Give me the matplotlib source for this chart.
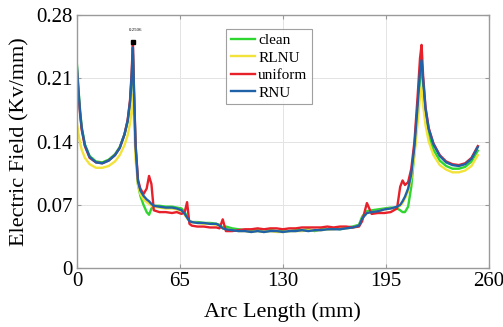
import matplotlib
matplotlib.use("Agg")
import matplotlib.pyplot as plt

plt.rcParams['font.family'] = ['Liberation Serif', 'DejaVu Serif']

# Arc length positions (mm)
arc_length = [0, 1, 2, 3, 5, 8, 12, 16, 20, 24,
              27, 30, 32, 33.5, 34.5, 35.3, 36, 37, 38.5, 40,
              42, 44, 45.5, 47, 48.5, 52, 56, 60, 63, 66,
              68, 69.5, 71, 72.5, 76, 80, 84, 88, 90, 92,
              94, 98, 102, 106, 110, 114, 118, 122, 126, 130,
              134, 138, 142, 146, 150, 154, 158, 162, 166, 170,
              174, 178, 180, 183, 186, 190, 194, 198, 202, 204,
              205.5, 207, 209, 211, 213, 215, 216.5, 217.5, 218.5, 220,
              222, 225, 229, 233, 237, 241, 245, 249, 253]

clean = [0.225, 0.197, 0.174, 0.156, 0.137, 0.124, 0.118, 0.117, 0.120, 0.126,
         0.134, 0.148, 0.162, 0.182, 0.208, 0.236, 0.190, 0.132, 0.093, 0.080,
         0.070, 0.062, 0.059, 0.066, 0.069, 0.069, 0.068, 0.068, 0.067, 0.066,
         0.062, 0.057, 0.052, 0.051, 0.051, 0.050, 0.050, 0.049, 0.048, 0.045,
         0.046, 0.044, 0.043, 0.042, 0.041, 0.042, 0.040, 0.042, 0.041, 0.041,
         0.041, 0.042, 0.042, 0.043, 0.041, 0.043, 0.043, 0.044, 0.043, 0.045,
         0.046, 0.048, 0.057, 0.063, 0.064, 0.065, 0.066, 0.067, 0.066, 0.064,
         0.062, 0.062, 0.068, 0.090, 0.128, 0.172, 0.210, 0.222, 0.200, 0.168,
         0.147, 0.131, 0.119, 0.113, 0.110, 0.110, 0.112, 0.118, 0.130]

rlnu = [0.160, 0.148, 0.138, 0.131, 0.122, 0.115, 0.111, 0.111, 0.113, 0.118,
        0.125, 0.136, 0.147, 0.160, 0.175, 0.192, 0.160, 0.120, 0.092, 0.082,
        0.076, 0.073, 0.071, 0.069, 0.068, 0.067, 0.066, 0.066, 0.065, 0.063,
        0.059, 0.055, 0.052, 0.051, 0.050, 0.049, 0.049, 0.048, 0.047, 0.044,
        0.043, 0.042, 0.041, 0.041, 0.040, 0.041, 0.040, 0.041, 0.040, 0.040,
        0.041, 0.041, 0.041, 0.042, 0.042, 0.042, 0.043, 0.043, 0.044, 0.044,
        0.045, 0.047, 0.055, 0.061, 0.062, 0.063, 0.065, 0.066, 0.067, 0.069,
        0.072, 0.077, 0.085, 0.100, 0.125, 0.160, 0.190, 0.200, 0.180, 0.158,
        0.140, 0.125, 0.114, 0.109, 0.106, 0.106, 0.108, 0.113, 0.125]

uniform = [0.218, 0.191, 0.170, 0.153, 0.135, 0.122, 0.117, 0.116, 0.119, 0.125,
           0.133, 0.148, 0.164, 0.186, 0.216, 0.2506, 0.198, 0.137, 0.098, 0.088,
           0.082, 0.088, 0.102, 0.093, 0.064, 0.062, 0.062, 0.061, 0.062, 0.060,
           0.062, 0.073, 0.049, 0.047, 0.046, 0.046, 0.045, 0.045, 0.044, 0.054,
           0.041, 0.041, 0.042, 0.043, 0.043, 0.044, 0.043, 0.044, 0.044, 0.043,
           0.044, 0.044, 0.045, 0.045, 0.045, 0.045, 0.046, 0.045, 0.046, 0.046,
           0.045, 0.046, 0.052, 0.072, 0.060, 0.061, 0.061, 0.062, 0.066, 0.090,
           0.097, 0.092, 0.095, 0.110, 0.140, 0.190, 0.232, 0.247, 0.212, 0.178,
           0.155, 0.138, 0.125, 0.118, 0.115, 0.114, 0.116, 0.122, 0.135]

rnu = [0.222, 0.195, 0.172, 0.155, 0.136, 0.123, 0.117, 0.116, 0.119, 0.125,
       0.133, 0.148, 0.163, 0.184, 0.212, 0.244, 0.195, 0.135, 0.096, 0.086,
       0.080, 0.076, 0.074, 0.071, 0.069, 0.068, 0.067, 0.067, 0.066, 0.064,
       0.060, 0.056, 0.052, 0.051, 0.050, 0.050, 0.049, 0.049, 0.047, 0.044,
       0.043, 0.042, 0.041, 0.041, 0.040, 0.041, 0.040, 0.041, 0.041, 0.040,
       0.041, 0.041, 0.042, 0.041, 0.042, 0.042, 0.043, 0.043, 0.043, 0.044,
       0.045, 0.047, 0.055, 0.061, 0.062, 0.063, 0.065, 0.066, 0.068, 0.070,
       0.074, 0.079, 0.088, 0.104, 0.135, 0.180, 0.218, 0.230, 0.208, 0.176,
       0.154, 0.137, 0.124, 0.117, 0.114, 0.113, 0.115, 0.121, 0.134]

series_names = ['clean', 'RLNU', 'uniform', 'RNU']
series_colors = ['#2fd62f', '#f2e23a', '#e8202a', '#1f62a8']

peak_x = 35.3
peak_y = 0.2506

x_ticks = [0, 65, 130, 195, 260]
y_ticks = [0, 0.07, 0.14, 0.21, 0.28]
y_tick_labels = ['0', '0.07', '0.14', '0.21', '0.28']

fig = plt.figure(figsize=(5.03, 3.27), dpi=100)
ax = fig.add_axes([0.153, 0.180, 0.819, 0.774])

for name, vals, col in zip(series_names, [clean, rlnu, uniform, rnu], series_colors):
    ax.plot(arc_length, vals, color=col, lw=1.7, label=name)

ax.plot([peak_x], [peak_y], marker='s', color='black', markersize=3.5, ls='none')
ax.text(peak_x + 1.5, peak_y + 0.011, f'{peak_y:.4f}', fontsize=3.5,
        ha='center', va='bottom')

ax.set_xlim(0, 260)
ax.set_ylim(0, 0.28)
ax.set_xticks(x_ticks)
ax.set_yticks(y_ticks)
ax.set_yticklabels(y_tick_labels)
ax.grid(True, color='#e4e4e4', lw=0.7)
ax.set_axisbelow(True)
ax.tick_params(direction='in', top=True, right=True, labelsize=15,
               color='#999999', length=3, pad=3)
for s in ax.spines.values():
    s.set_color('#9a9a9a')
    s.set_linewidth(1.0)

ax.set_xlabel('Arc Length (mm)', fontsize=16, labelpad=8)
ax.set_ylabel('Electric Field (Kv/mm)', fontsize=16, labelpad=5)

leg = ax.legend(loc='upper left', bbox_to_anchor=(0.362, 0.945), fontsize=11,
                frameon=True, fancybox=False, edgecolor='#888888',
                handlelength=1.6, handletextpad=0.2, borderpad=0.3,
                labelspacing=0.25, borderaxespad=0)
leg.get_frame().set_linewidth(0.8)

fig.savefig('out.png', dpi=100)
